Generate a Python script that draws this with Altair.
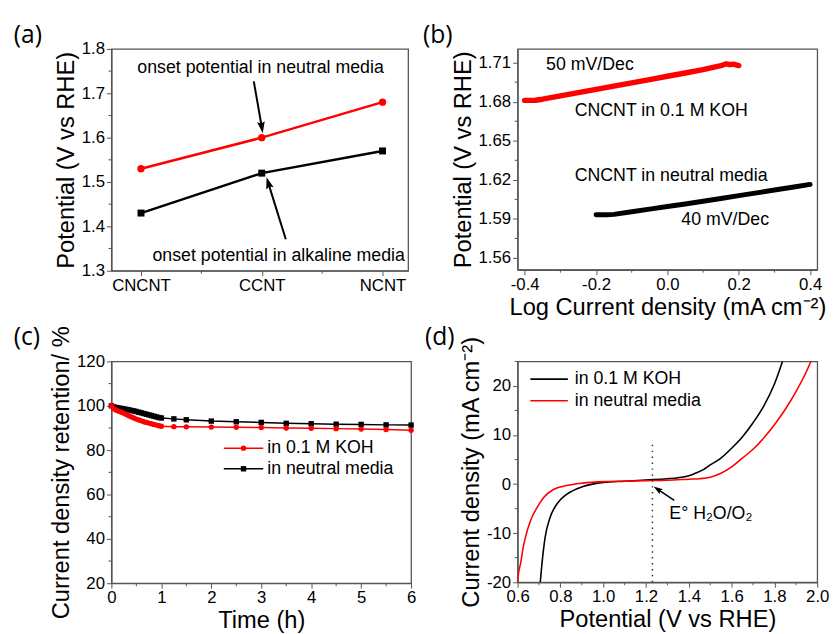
import json
import altair as alt
import pandas as pd

FONT = "Liberation Sans"
PANEL_FONT = "Open Sans"
RED = "#ff0000"
BLACK = "#000000"
FRAME = "#555555"
HEAD = "M0,-1L0.62,0.85L0,0.55L-0.62,0.85Z"

panel_labels = ["(a)", "(b)", "(c)", "(d)"]

# ---------------- (a) onset potentials ----------------
a_categories = ["CNCNT", "CCNT", "NCNT"]
a_neutral = [1.53, 1.60, 1.68]
a_alkaline = [1.43, 1.52, 1.57]
a_y_ticks = [1.3, 1.4, 1.5, 1.6, 1.7, 1.8]
a_y_minor = [1.35, 1.45, 1.55, 1.65, 1.75]
a_x_minor = [0.5, 1.5]
a_notes = ["onset potential in neutral media", "onset potential in alkaline media"]

# ---------------- (b) Tafel plots ----------------
b_koh_x = [-0.40, -0.37, -0.35, -0.30, -0.25, -0.20, -0.15, -0.10, -0.05, 0.00,
           0.05, 0.10, 0.15, 0.165, 0.175, 0.185, 0.20]
b_koh_y = [1.6810, 1.6811, 1.6819, 1.6844, 1.6869, 1.6894, 1.6919, 1.6944, 1.6969,
           1.6995, 1.7020, 1.7046, 1.7076, 1.7091, 1.7084, 1.7088, 1.7077]
b_neu_x = [-0.20, -0.17, -0.15, -0.10, -0.05, 0.00, 0.05, 0.10, 0.15, 0.20,
           0.25, 0.30, 0.35, 0.40]
b_neu_y = [1.5932, 1.5932, 1.5935, 1.5955, 1.5975, 1.5995, 1.6015, 1.6036, 1.6057,
           1.6079, 1.6100, 1.6122, 1.6143, 1.6165]
b_x_ticks = [-0.4, -0.2, 0.0, 0.2, 0.4]
b_x_minor = [-0.3, -0.1, 0.1, 0.3]
b_y_ticks = [1.56, 1.59, 1.62, 1.65, 1.68, 1.71]
b_y_minor = [1.575, 1.605, 1.635, 1.665, 1.695]
b_notes = ["50 mV/Dec", "CNCNT in 0.1 M KOH", "CNCNT in neutral media", "40 mV/Dec"]

# ---------------- (c) stability ----------------
c_time = [0, 0.05, 0.1, 0.15, 0.2, 0.25, 0.3, 0.35, 0.4, 0.45, 0.5, 0.55, 0.6, 0.65,
          0.7, 0.75, 0.8, 0.85, 0.9, 0.95, 1.0, 1.25, 1.5, 2, 2.5, 3, 3.5, 4, 4.5, 5,
          5.5, 6]
c_koh = [100, 98.6, 98.0, 97.5, 97.1, 96.6, 96.1, 95.5, 95.0, 94.5, 94.0, 93.6, 93.2,
         92.8, 92.5, 92.2, 91.9, 91.6, 91.3, 91.0, 90.8, 90.6, 90.5, 90.4, 90.3, 90.2,
         90.0, 89.9, 89.7, 89.5, 89.3, 89.0]
c_neutral = [100, 99.5, 99.2, 99.0, 98.8, 98.6, 98.4, 98.2, 97.9, 97.7, 97.4, 97.1,
             96.8, 96.5, 96.2, 95.9, 95.6, 95.3, 95.0, 94.7, 94.5, 94.1, 93.7, 93.1,
             92.8, 92.5, 92.1, 91.9, 91.7, 91.6, 91.4, 91.3]
c_x_ticks = [0, 1, 2, 3, 4, 5, 6]
c_x_minor = [0.5, 1.5, 2.5, 3.5, 4.5, 5.5]
c_y_ticks = [20, 40, 60, 80, 100, 120]
c_y_minor = [30, 50, 70, 90, 110]
c_legend = ["in 0.1 M KOH", "in neutral media"]

# ---------------- (d) polarization curves ----------------
d_koh_x = [0.706, 0.714, 0.729, 0.752, 0.783, 0.829, 0.905, 0.95, 1.0, 1.1, 1.2, 1.3,
           1.35, 1.4, 1.43, 1.47, 1.5, 1.55, 1.6, 1.65, 1.7, 1.75, 1.8, 1.84]
d_koh_y = [-20, -16.2, -10.8, -6.8, -4.1, -2.1, -0.5, 0.0, 0.35, 0.6, 0.85, 1.1,
           1.3, 1.7, 2.2, 3.0, 3.9, 5.3, 7.3, 9.6, 12.5, 15.9, 20.4, 25.3]
d_neu_x = [0.600, 0.605, 0.614, 0.625, 0.637, 0.66, 0.691, 0.721, 0.767, 0.829, 0.905,
           1.0, 1.1, 1.2, 1.3, 1.4, 1.45, 1.5, 1.55, 1.6, 1.65, 1.7, 1.75, 1.8, 1.85,
           1.9, 1.95, 1.975]
d_neu_y = [-20, -18, -16.2, -13.2, -10.8, -7.5, -4.8, -2.8, -1.1, -0.3, 0.2,
           0.5, 0.6, 0.7, 0.8, 1.0, 1.1, 1.4, 2.2, 3.5, 5.3, 7.1, 9.4, 12.1, 15.2,
           18.8, 23.0, 25.5]
d_x_ticks = [0.6, 0.8, 1.0, 1.2, 1.4, 1.6, 1.8, 2.0]
d_x_minor = [0.7, 0.9, 1.1, 1.3, 1.5, 1.7, 1.9]
d_y_ticks = [-20, -10, 0, 10, 20]
d_y_minor = [-15, -5, 5, 15, 25]
d_legend = ["in 0.1 M KOH", "in neutral media"]
d_e0 = [1.23]
d_e0_top = [8.9]
d_note = "E\u00b0 H\u2082O/O\u2082"

NEG = "(datum.value < 0 ? '-' : '') + format(abs(datum.value), '{f}')"


def X(field, scale):
    return alt.X(field, scale=scale)


def Y(field, scale):
    return alt.Y(field, scale=scale)


def minor_x(values, scale, h):
    return alt.Chart(pd.DataFrame({"m": values})).mark_rule(
        color=FRAME, strokeWidth=1
    ).encode(x=X("m:Q", scale), y=alt.value(h), y2=alt.value(h + 3))


def minor_y(values, scale):
    return alt.Chart(pd.DataFrame({"m": values})).mark_rule(
        color=FRAME, strokeWidth=1
    ).encode(y=Y("m:Q", scale), x=alt.value(0), x2=alt.value(-3))


def panel_label(text, dx, dy):
    return alt.Chart(pd.DataFrame({"t": [text]})).mark_text(
        font=PANEL_FONT, fontSize=25, align="left", baseline="middle", color=BLACK
    ).encode(x=alt.value(dx), y=alt.value(dy), text="t:N")


def note(text, x, y, xs, ys, size=18, align="left"):
    return alt.Chart(pd.DataFrame({"t": [text], "x": [x], "y": [y]})).mark_text(
        font=FONT, fontSize=size, align=align, baseline="middle", color=BLACK
    ).encode(x=X("x:Q", xs), y=Y("y:Q", ys), text="t:N")


def arrow(x, y, x2, y2, angle, xs, ys, width=2, head=160):
    df = pd.DataFrame({"x": [x], "y": [y], "x2": [x2], "y2": [y2]})
    line = alt.Chart(df).mark_rule(color=BLACK, strokeWidth=width).encode(
        x=X("x:Q", xs), y=Y("y:Q", ys), x2="x2:Q", y2="y2:Q")
    tip = alt.Chart(df).mark_point(shape=HEAD, filled=True, size=head, color=BLACK,
                                   opacity=1, angle=angle, strokeWidth=0).encode(
        x=X("x2:Q", xs), y=Y("y2:Q", ys))
    return [line, tip]


# ================= panel (a) =================
WA, HA = 301, 225
xa = alt.Scale(domain=[-0.245, 2.212], nice=False, zero=False)
ya = alt.Scale(domain=[1.3, 1.8], nice=False, zero=False)
a_idx = list(range(len(a_categories)))
a_neu_df = pd.DataFrame({"i": a_idx, "v": a_neutral})
a_alk_df = pd.DataFrame({"i": a_idx, "v": a_alkaline})
cat_js = json.dumps(a_categories)

a_neu_line = alt.Chart(a_neu_df).mark_line(color=RED, strokeWidth=2.5).encode(
    x=alt.X("i:Q", scale=xa, axis=alt.Axis(values=a_idx, labelExpr=f"{cat_js}[datum.value]", title="")),
    y=alt.Y("v:Q", scale=ya, axis=alt.Axis(values=a_y_ticks, format=".1f", title="Potential (V vs RHE)")),
)
a_neu_pts = alt.Chart(a_neu_df).mark_point(shape="circle", filled=True, size=55, color=RED, opacity=1).encode(
    x=X("i:Q", xa), y=Y("v:Q", ya))
a_alk_line = alt.Chart(a_alk_df).mark_line(color=BLACK, strokeWidth=2.5).encode(
    x=X("i:Q", xa), y=Y("v:Q", ya))
a_alk_pts = alt.Chart(a_alk_df).mark_point(shape="square", filled=True, size=50, color=BLACK, opacity=1).encode(
    x=X("i:Q", xa), y=Y("v:Q", ya))

panel_a = alt.layer(
    a_neu_line, a_alk_line, a_neu_pts, a_alk_pts,
    minor_x(a_x_minor, xa, HA), minor_y(a_y_minor, ya),
    note(a_notes[0], 0.99, 1.756, xa, ya, align="center"),
    note(a_notes[1], 1.14, 1.333, xa, ya, align="center"),
    *arrow(0.934, 1.727, 1.0, 1.624, 171, xa, ya),
    *arrow(1.199, 1.371, 1.055, 1.497, 343, xa, ya),
    panel_label(panel_labels[0], -99, -14),
).properties(width=WA, height=HA)

# ================= panel (b) =================
WB, HB = 304, 224
xb = alt.Scale(domain=[-0.42, 0.42], nice=False, zero=False)
yb = alt.Scale(domain=[1.551, 1.7205], nice=False, zero=False)
b_koh_df = pd.DataFrame({"x": b_koh_x, "y": b_koh_y})
b_neu_df = pd.DataFrame({"x": b_neu_x, "y": b_neu_y})

b_koh = alt.Chart(b_koh_df).mark_line(color=RED, strokeWidth=5.5, strokeCap="round", strokeJoin="round").encode(
    x=alt.X("x:Q", scale=xb, axis=alt.Axis(values=b_x_ticks, labelExpr=NEG.format(f=".1f"),
                                           title="Log Current density (mA cm\u207b\u00b2)")),
    y=alt.Y("y:Q", scale=yb, axis=alt.Axis(values=b_y_ticks, format=".2f", title="Potential (V vs RHE)")),
)
b_neu = alt.Chart(b_neu_df).mark_line(color=BLACK, strokeWidth=5, strokeCap="round", strokeJoin="round").encode(
    x=X("x:Q", xb), y=Y("y:Q", yb))

panel_b = alt.layer(
    b_koh, b_neu,
    minor_x(b_x_minor, xb, HB), minor_y(b_y_minor, yb),
    note(b_notes[0], -0.34, 1.7084, xb, yb),
    note(b_notes[1], -0.26, 1.6728, xb, yb),
    note(b_notes[2], -0.26, 1.6229, xb, yb),
    note(b_notes[3], 0.039, 1.5888, xb, yb),
    panel_label(panel_labels[1], -96, -14),
).properties(width=WB, height=HB)

# ================= panel (c) =================
WC, HC = 304, 225
xc = alt.Scale(domain=[0, 6], nice=False, zero=False)
yc = alt.Scale(domain=[20, 120], nice=False, zero=False)
c_koh_df = pd.DataFrame({"t": c_time, "v": c_koh})
c_neu_df = pd.DataFrame({"t": c_time, "v": c_neutral})

c_neu_line = alt.Chart(c_neu_df).mark_line(color=BLACK, strokeWidth=1.5).encode(
    x=alt.X("t:Q", scale=xc, axis=alt.Axis(values=c_x_ticks, format="d", title="Time (h)")),
    y=alt.Y("v:Q", scale=yc, axis=alt.Axis(values=c_y_ticks, format="d", title="Current density retention/ %")),
)
c_neu_pts = alt.Chart(c_neu_df).mark_point(shape="square", filled=True, size=30, color=BLACK, opacity=1).encode(
    x=X("t:Q", xc), y=Y("v:Q", yc))
c_koh_line = alt.Chart(c_koh_df).mark_line(color=RED, strokeWidth=1.5).encode(
    x=X("t:Q", xc), y=Y("v:Q", yc))
c_koh_pts = alt.Chart(c_koh_df).mark_point(shape="circle", filled=True, size=30, color=RED, opacity=1).encode(
    x=X("t:Q", xc), y=Y("v:Q", yc))

c_leg_y = [80.9, 71.6]
c_leg_colors = [RED, BLACK]
c_leg_shapes = ["circle", "square"]
c_legend_layers = []
for i in range(2):
    df = pd.DataFrame({"x": [2.25], "x2": [3.04], "xm": [2.645], "y": [c_leg_y[i]]})
    c_legend_layers.append(alt.Chart(df).mark_rule(color=c_leg_colors[i], strokeWidth=1.5).encode(
        x=X("x:Q", xc), x2="x2:Q", y=Y("y:Q", yc)))
    c_legend_layers.append(alt.Chart(df).mark_point(shape=c_leg_shapes[i], filled=True, size=30,
                                                    color=c_leg_colors[i], opacity=1).encode(
        x=X("xm:Q", xc), y=Y("y:Q", yc)))
    c_legend_layers.append(note(c_legend[i], 3.12, c_leg_y[i], xc, yc))

panel_c = alt.layer(
    c_neu_line, c_koh_line, c_neu_pts, c_koh_pts,
    minor_x(c_x_minor, xc, HC), minor_y(c_y_minor, yc),
    *c_legend_layers,
    panel_label(panel_labels[2], -99, -25),
).properties(width=WC, height=HC)

# ================= panel (d) =================
WD, HD = 304, 224
xd = alt.Scale(domain=[0.6, 2.0], nice=False, zero=False)
yd = alt.Scale(domain=[-20, 25], nice=False, zero=False)
d_koh_df = pd.DataFrame({"x": d_koh_x, "y": d_koh_y})
d_neu_df = pd.DataFrame({"x": d_neu_x, "y": d_neu_y})

d_koh = alt.Chart(d_koh_df).mark_line(color=BLACK, strokeWidth=1.6, clip=True, interpolate="monotone").encode(
    x=alt.X("x:Q", scale=xd, axis=alt.Axis(values=d_x_ticks, format=".1f", title="Potential (V vs RHE)")),
    y=alt.Y("y:Q", scale=yd, axis=alt.Axis(values=d_y_ticks, labelExpr=NEG.format(f="d"),
                                           title="Current density (mA cm\u207b\u00b2)")),
)
d_neu = alt.Chart(d_neu_df).mark_line(color=RED, strokeWidth=1.6, clip=True, interpolate="monotone").encode(
    x=X("x:Q", xd), y=Y("y:Q", yd))

d_e0_df = pd.DataFrame({"x": d_e0, "y": [-20], "y2": d_e0_top})
d_dotted = alt.Chart(d_e0_df).mark_rule(color="#333333", strokeWidth=1.5, strokeDash=[1.5, 4.5]).encode(
    x=X("x:Q", xd), y=Y("y:Q", yd), y2="y2:Q")

d_leg_y = [21.4, 17.0]
d_leg_colors = [BLACK, RED]
d_legend_layers = []
for i in range(2):
    df = pd.DataFrame({"x": [0.66], "x2": [0.835], "y": [d_leg_y[i]]})
    d_legend_layers.append(alt.Chart(df).mark_rule(color=d_leg_colors[i], strokeWidth=1.6).encode(
        x=X("x:Q", xd), x2="x2:Q", y=Y("y:Q", yd)))
    d_legend_layers.append(note(d_legend[i], 0.867, d_leg_y[i], xd, yd))

panel_d = alt.layer(
    d_koh, d_neu, d_dotted,
    minor_x(d_x_minor, xd, HD), minor_y(d_y_minor, yd),
    *d_legend_layers,
    note(d_note, 1.309, -6.1, xd, yd),
    *arrow(1.332, -3.3, 1.255, -1.07, 304, xd, yd, width=1.6, head=100),
    panel_label(panel_labels[3], -94, -25),
).properties(width=WD, height=HD)

chart = alt.concat(
    panel_a, panel_b, panel_c, panel_d, columns=2,
    spacing={"row": 4, "column": 5},
).properties(
    padding={"left": 13, "top": 18, "right": 5, "bottom": 5},
    background="white",
).configure_view(
    stroke=FRAME, strokeWidth=1.3
).configure_axis(
    labelFont=FONT, labelFontSize=17, labelColor=BLACK, labelPadding=2,
    labelFlush=False, labelOverlap=False,
    titleFont=FONT, titleFontSize=24, titleFontWeight="normal", titleColor=BLACK,
    titlePadding=3, tickColor=FRAME, tickSize=5, tickWidth=1,
    domainColor=FRAME, domainWidth=1.3, grid=False,
)

chart.save("out.html", embed_options={"renderer": "svg", "actions": False})
